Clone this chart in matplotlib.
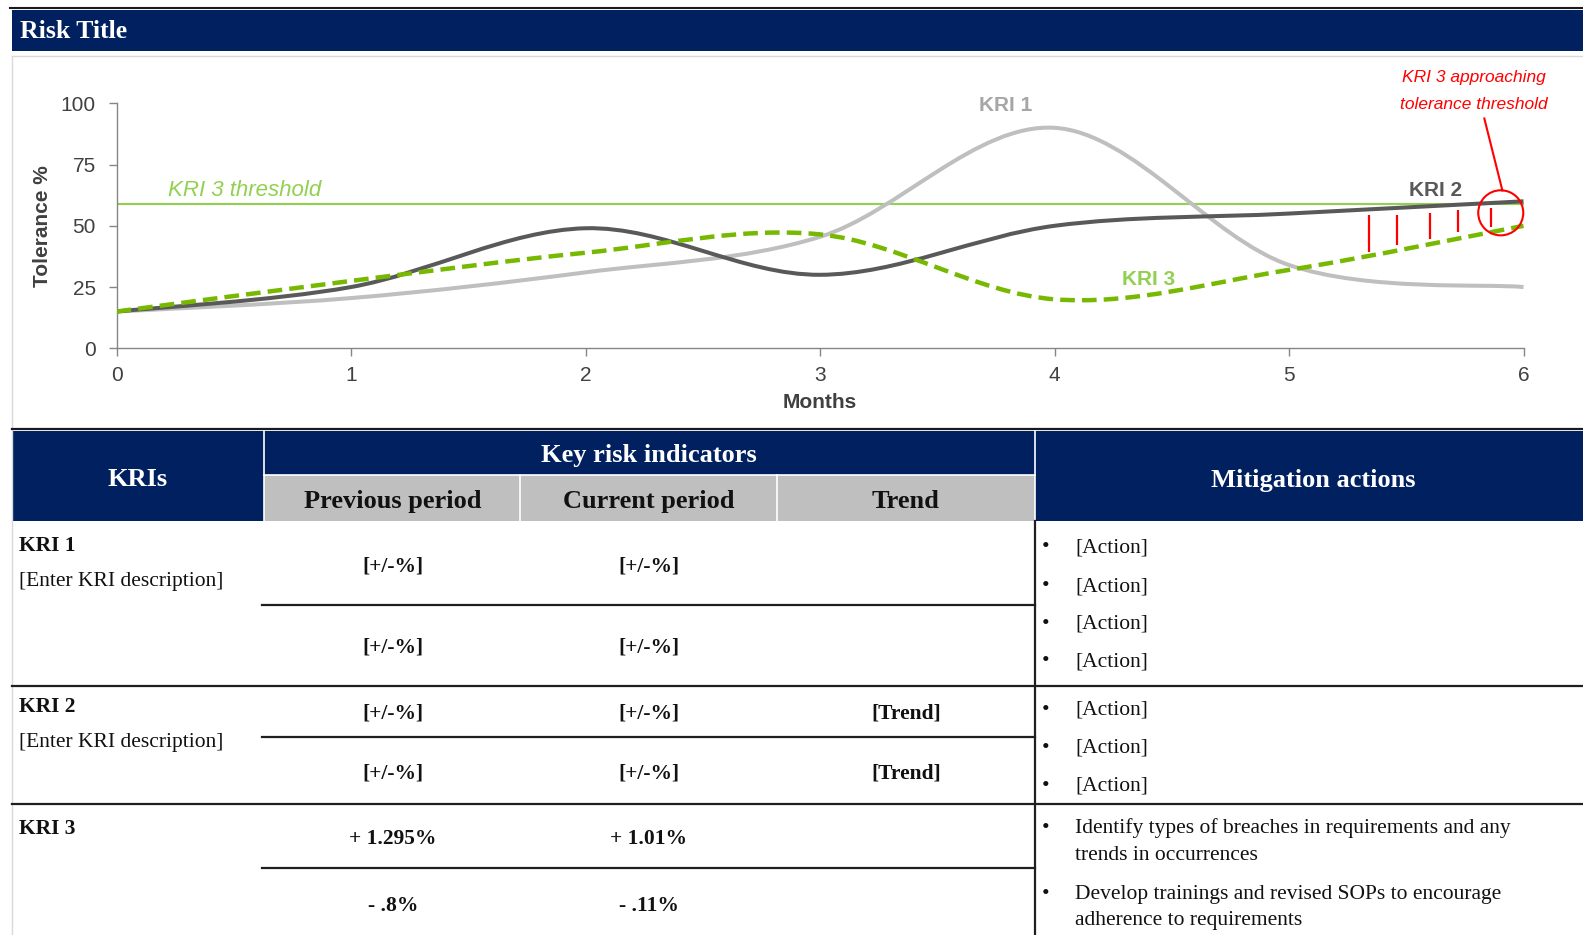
import numpy as np
import matplotlib
matplotlib.use("Agg")
import matplotlib.pyplot as plt
from matplotlib.path import Path
from matplotlib.patches import PathPatch, Rectangle, Ellipse

# ---- chart data ----
months = [0, 1, 2, 3, 4, 5, 6]
kri1 = [15, 20.5, 31, 45.5, 90, 34, 25]
kri2 = [15, 25, 49, 30, 50, 55, 60]
kri3 = [15, 27.5, 39, 46.5, 20, 32, 50]
threshold = 59

# red gap marks between KRI 2 and KRI 3
gap_x = [5.34, 5.46, 5.6, 5.72, 5.86]
gap_top = [54.3, 54.3, 55.3, 56.4, 57.1]
gap_bottom = [39.3, 42.2, 44.5, 47.6, 49.4]

# ---- table data ----
title = "Risk Title"
group_header = "Key risk indicators"
sub_headers = ["Previous period", "Current period", "Trend"]
kri_names = ["KRI 1", "KRI 2", "KRI 3"]
kri_desc = ["[Enter KRI description]", "[Enter KRI description]", ""]
previous = [["[+/-%]", "[+/-%]"], ["[+/-%]", "[+/-%]"], ["+ 1.295%", "- .8%"]]
current = [["[+/-%]", "[+/-%]"], ["[+/-%]", "[+/-%]"], ["+ 1.01%", "- .11%"]]
trend = [["", ""], ["[Trend]", "[Trend]"], ["", ""]]
actions = [
    ["[Action]", "[Action]", "[Action]", "[Action]"],
    ["[Action]", "[Action]", "[Action]"],
    ["Identify types of breaches in requirements and any\ntrends in occurrences",
     "Develop trainings and revised SOPs to encourage\nadherence to requirements"],
]

NAVY = "#002060"
GREY_HDR = "#BFBFBF"
SERIF = "Liberation Serif"
plt.rcParams["font.family"] = "Liberation Sans"

W, H = 1583, 935
fig = plt.figure(figsize=(W / 100, H / 100), dpi=100)

# background canvas in pixel coordinates
bg = fig.add_axes([0, 0, 1, 1], zorder=0)
bg.set_xlim(0, W)
bg.set_ylim(H, 0)
bg.axis("off")

# title bar
bg.plot([10, W], [7.5, 7.5], color="#1a1a1a", lw=1.5)
bg.add_patch(Rectangle((12.5, 9.5), W, 41, fc=NAVY, ec="none"))
bg.text(20, 31, title, family=SERIF, fontsize=18.5, fontweight="bold",
        color="white", ha="left", va="center")

# chart panel frame
bg.plot([12.5, W], [56, 56], color="#D9D9D9", lw=1)
bg.plot([12, 12], [56, H], color="#D9D9D9", lw=1)

# ---- chart ----
x0, x6, y0, y100 = 116.5, 1523.5, 348.3, 103.3
ax = fig.add_axes([x0 / W, 1 - y0 / H, (x6 - x0) / W, (y0 - y100) / H], zorder=1)
ax.set_facecolor("none")


def smooth_path(xs, ys):
    # Excel-style smoothed line: cubic Bezier segments through the points
    pts = np.column_stack([xs, ys]).astype(float)
    ext = np.vstack([pts[0], pts, pts[-1]])
    verts = [pts[0]]
    codes = [Path.MOVETO]
    for i in range(len(pts) - 1):
        p0, p1, p2, p3 = ext[i], ext[i + 1], ext[i + 2], ext[i + 3]
        verts += [p1 + (p2 - p0) / 6, p2 - (p3 - p1) / 6, p2]
        codes += [Path.CURVE4] * 3
    return Path(verts, codes)


ax.axhline(threshold, color="#92D050", lw=1.5, zorder=1)
ax.add_patch(PathPatch(smooth_path(months, kri1), fill=False, ec="#BFBFBF", lw=2.9, zorder=2))
ax.add_patch(PathPatch(smooth_path(months, kri2), fill=False, ec="#595959", lw=2.9, zorder=3))
ax.add_patch(PathPatch(smooth_path(months, kri3), fill=False, ec="#77B800", lw=3.2,
                       linestyle=(0, (3.3, 1.6)), capstyle="butt", zorder=4))

ax.vlines(gap_x, gap_bottom, gap_top, color="#FF0000", lw=1.6, zorder=5)
ax.add_patch(Ellipse((5.903, 55.3), 0.192, 18.4, fill=False, ec="#FF0000", lw=1.5,
                     zorder=6, clip_on=False))
ax.plot([5.833, 5.91], [93.8, 64.4], color="#FF0000", lw=1.5, zorder=6, clip_on=False)
ax.text(5.789, 110.7, "KRI 3 approaching", color="#FF0000", fontsize=12.5,
        fontstyle="italic", ha="center", va="center", clip_on=False)
ax.text(5.789, 99.7, "tolerance threshold", color="#FF0000", fontsize=12.5,
        fontstyle="italic", ha="center", va="center", clip_on=False)

ax.text(3.79, 99.3, "KRI 1", color="#A6A6A6", fontsize=15, fontweight="bold",
        ha="center", va="center", clip_on=False)
ax.text(5.624, 64.3, "KRI 2", color="#595959", fontsize=15, fontweight="bold",
        ha="center", va="center")
ax.text(4.40, 28.0, "KRI 3", color="#92D050", fontsize=15, fontweight="bold",
        ha="center", va="center")
ax.text(0.221, 64.4, "KRI 3 threshold", color="#92D050", fontsize=16,
        fontstyle="italic", ha="left", va="center")

ax.set_xlim(0, 6)
ax.set_ylim(0, 100)
ax.set_xticks(range(0, 7))
ax.set_yticks([0, 25, 50, 75, 100])
for s in ["top", "right"]:
    ax.spines[s].set_visible(False)
for s in ["left", "bottom"]:
    ax.spines[s].set_color("#868686")
    ax.spines[s].set_linewidth(1)
ax.tick_params(axis="both", length=5.8, width=1, color="#868686",
               labelsize=15, labelcolor="#404040")
ax.tick_params(axis="y", pad=9)
ax.tick_params(axis="x", pad=7)
ax.set_ylabel("Tolerance %", fontsize=15, fontweight="bold", color="#404040")
ax.set_xlabel("Months", fontsize=15, fontweight="bold", color="#404040")
ax.yaxis.set_label_coords(-0.0525, 0.5)
ax.xaxis.set_label_coords(0.5, -0.22)
ax.yaxis.label.set_va("center")
ax.xaxis.label.set_va("center")

# ---- table ----
col_left, col_prev, col_cur, col_trend, col_act = 13, 264, 520.5, 777, 1035
prev_cx, cur_cx, trend_cx = 393, 649, 906

bg.plot([12, W], [429, 429], color="#1a1a1a", lw=1.6)
bg.add_patch(Rectangle((col_left, 430.5), W - col_left, 90.5, fc=NAVY, ec="none"))
bg.add_patch(Rectangle((col_prev, 475), col_act - col_prev, 46, fc=GREY_HDR, ec="none"))
bg.plot([col_prev, col_prev], [430.5, 521], color="white", lw=1.2)
bg.plot([col_act, col_act], [430.5, 521], color="white", lw=1.2)
bg.plot([col_prev, col_act], [475, 475], color="white", lw=1.2)
for cx in [col_cur, col_trend]:
    bg.plot([cx, cx], [475, 521], color="white", lw=1.2)

hdr_kw = dict(family=SERIF, fontsize=19, fontweight="bold", ha="center", va="center")
bg.text(138, 479, "KRIs", color="white", **hdr_kw)
bg.text(649, 455.5, group_header, color="white", **hdr_kw)
for cx, lab in zip([prev_cx, cur_cx, trend_cx], sub_headers):
    bg.text(cx, 501.5, lab, color="#111111", **hdr_kw)
bg.text(1313, 480, "Mitigation actions", color="white", **hdr_kw)

# body rules
rule = dict(color="#1f1f1f", lw=1.6)
for y in [685.5, 803.7]:
    bg.plot([12.5, W], [y, y], **rule)
for y in [605, 737, 868]:
    bg.plot([262, col_act], [y, y], **rule)
bg.plot([col_act, col_act], [521, H], **rule)

name_y = [546, 707.5, 829]
desc_y = [581.5, 743, 0]
value_y = [[567, 647.5], [713.5, 773.5], [839.5, 906]]
action_y = [[547.5, 587, 624.5, 661.5], [710.5, 748.5, 786], [828.5, 894]]
body = dict(family=SERIF, fontsize=15.5, color="#111111", va="center")

for i in range(3):
    bg.text(19, name_y[i], kri_names[i], fontweight="bold", ha="left", **body)
    if kri_desc[i]:
        bg.text(19, desc_y[i], kri_desc[i], ha="left", **body)
    for j in range(2):
        bg.text(prev_cx, value_y[i][j], previous[i][j], fontweight="bold", ha="center", **body)
        bg.text(cur_cx, value_y[i][j], current[i][j], fontweight="bold", ha="center", **body)
        if trend[i][j]:
            bg.text(trend_cx, value_y[i][j], trend[i][j], fontweight="bold", ha="center", **body)
    for y, item in zip(action_y[i], actions[i]):
        bg.text(1046, y, "\u2022", ha="center", **body)
        for k, line in enumerate(item.split("\n")):
            bg.text(1075, y + k * 27, line, ha="left", **body)

fig.savefig("out.png", dpi=100)
